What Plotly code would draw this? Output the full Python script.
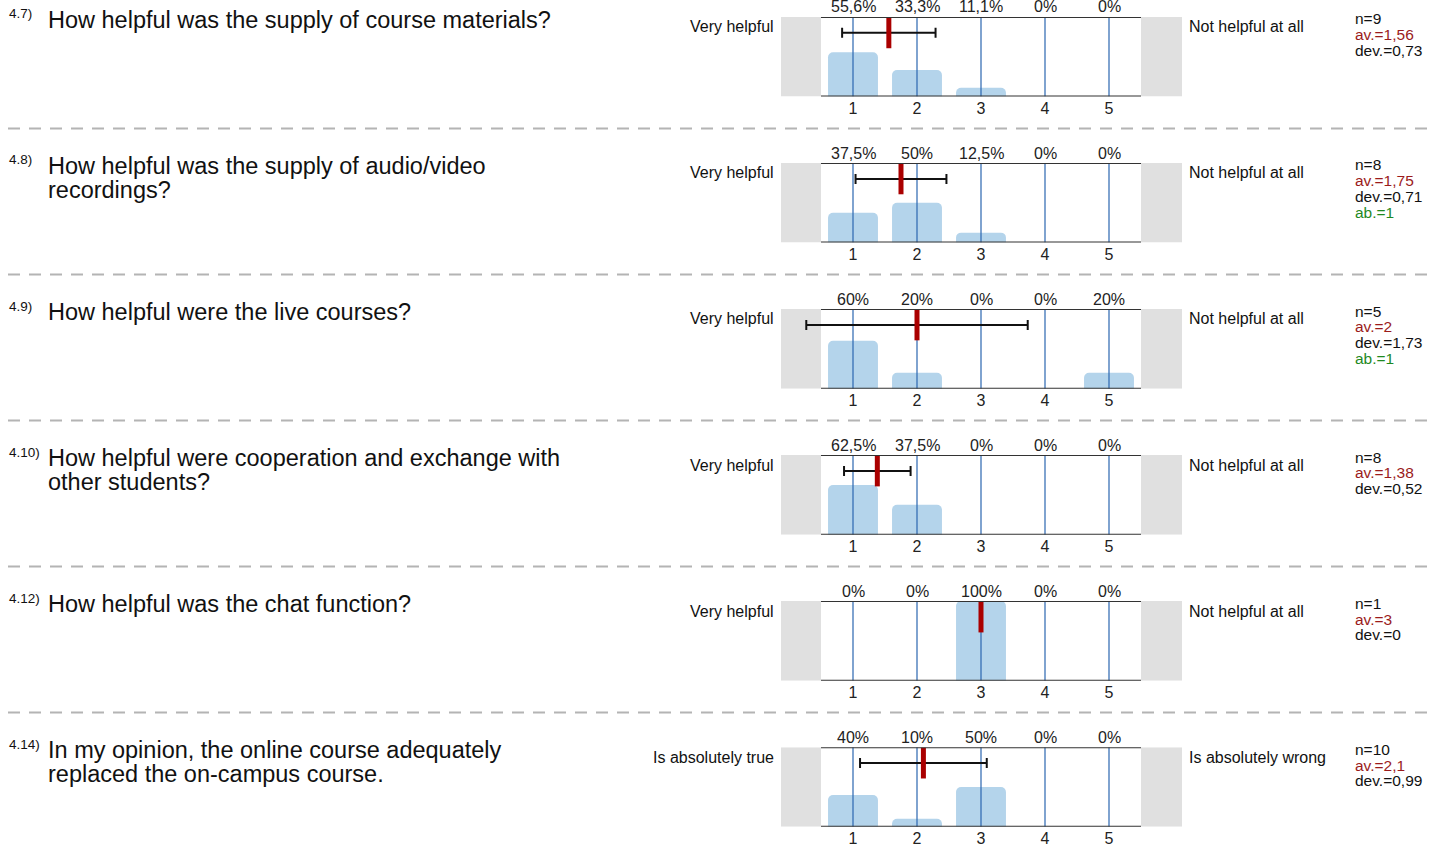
import plotly.graph_objects as go

W, H = 1440, 847

numbers = ["4.7)", "4.8)", "4.9)", "4.10)", "4.12)", "4.14)"]
questions = [
    "How helpful was the supply of course materials?",
    "How helpful was the supply of audio/video\nrecordings?",
    "How helpful were the live courses?",
    "How helpful were cooperation and exchange with\nother students?",
    "How helpful was the chat function?",
    "In my opinion, the online course adequately\nreplaced the on-campus course.",
]
left_labels = ["Very helpful"] * 5 + ["Is absolutely true"]
right_labels = ["Not helpful at all"] * 5 + ["Is absolutely wrong"]
categories = [1, 2, 3, 4, 5]
percents = [
    [55.6, 33.3, 11.1, 0, 0],
    [37.5, 50, 12.5, 0, 0],
    [60, 20, 0, 0, 20],
    [62.5, 37.5, 0, 0, 0],
    [0, 0, 100, 0, 0],
    [40, 10, 50, 0, 0],
]
n_vals = [9, 8, 5, 8, 1, 10]
av_vals = [1.56, 1.75, 2, 1.38, 3, 2.1]
dev_vals = [0.73, 0.71, 1.73, 0.52, 0, 0.99]
ab_vals = [None, 1, 1, None, None, None]

FONT = "Liberation Sans, Arial, sans-serif"
BAR_C = "#b4d4eb"
GRID_C = "#2b66b0"
AXIS_C = "#333333"
RED = "#aa0000"
AV_C = "#9b1b1b"
AB_C = "#1f8a1f"
PANEL_C = "#e0e0e0"

ROW_STEP = 146.74
TOP0 = 17
PLOT_H = 80
PX_UNIT = 64.0
X_CAT1 = 853
XD0, XD1 = 781, 1182
R0 = 1 - (X_CAT1 - XD0) / PX_UNIT
R1 = 1 + (XD1 - X_CAT1) / PX_UNIT


def fx(px):
    return px / W


def fy(py):
    return 1 - py / H


def fmt(v):
    return f"{v:g}".replace(".", ",")


fig = go.Figure()
layout = dict(
    width=W, height=H, margin=dict(l=0, r=0, t=0, b=0),
    paper_bgcolor="white", plot_bgcolor="rgba(0,0,0,0)",
    showlegend=False, font=dict(family=FONT, color="#111"),
)
annotations = []
shapes = []

for i in range(6):
    top = TOP0 + ROW_STEP * i
    bot = top + PLOT_H
    sfx = "" if i == 0 else str(i + 1)
    xa, ya = "x" + sfx, "y" + sfx
    layout["xaxis" + sfx] = dict(
        domain=[fx(XD0), fx(XD1)], range=[R0, R1], anchor=ya,
        showline=False, showgrid=False, zeroline=False,
        tickvals=categories, ticktext=[str(c) for c in categories], ticks="",
        ticklabelstandoff=0,
        tickfont=dict(size=16, color="#222"), fixedrange=True,
    )
    layout["yaxis" + sfx] = dict(
        domain=[fy(bot), fy(top)], range=[0, 100], anchor=xa,
        visible=False, fixedrange=True,
    )
    # gray side panels and plotting frame lines
    shapes.append(dict(type="rect", xref=xa, yref=ya, x0=R0, x1=0.5, y0=0, y1=100,
                       fillcolor=PANEL_C, line=dict(width=0), layer="below"))
    shapes.append(dict(type="rect", xref=xa, yref=ya, x0=5.5, x1=R1, y0=0, y1=100,
                       fillcolor=PANEL_C, line=dict(width=0), layer="below"))
    for yy in (0, 100):
        shapes.append(dict(type="line", xref=xa, yref=ya, x0=0.5, x1=5.5, y0=yy, y1=yy,
                           line=dict(color=AXIS_C, width=2), layer="above"))
    # bars
    fig.add_trace(go.Bar(
        x=categories, y=percents[i], xaxis=xa, yaxis=ya, width=0.78,
        marker=dict(color=BAR_C, cornerradius=5, line=dict(width=0)),
        hoverinfo="skip",
    ))
    # vertical category lines above bars
    lx, ly = [], []
    for c in categories:
        lx += [c, c, None]
        ly += [0, 100, None]
    fig.add_trace(go.Scatter(
        x=lx, y=ly, xaxis=xa, yaxis=ya, mode="lines",
        line=dict(color=GRID_C, width=1.2), hoverinfo="skip",
    ))
    # error bar (mean +- dev)
    if dev_vals[i] > 0:
        fig.add_trace(go.Scatter(
            x=[av_vals[i]], y=[80], xaxis=xa, yaxis=ya, mode="markers",
            marker=dict(size=1, color="rgba(0,0,0,0)"),
            error_x=dict(type="data", array=[dev_vals[i]], color="#111",
                         thickness=2, width=5),
            hoverinfo="skip",
        ))
    # mean marker
    fig.add_trace(go.Scatter(
        x=[av_vals[i]], y=[80], xaxis=xa, yaxis=ya, mode="markers",
        marker=dict(symbol="line-ns", size=22,
                    line=dict(color=RED, width=5)),
        cliponaxis=False, hoverinfo="skip",
    ))
    # percent labels
    for c, p in zip(categories, percents[i]):
        annotations.append(dict(
            x=c, y=fy(top - 10), xref=xa, yref="paper", text=fmt(p) + "%",
            showarrow=False, font=dict(size=16, color="#222"),
            xanchor="center", yanchor="middle",
        ))
    # side labels
    annotations.append(dict(
        x=fx(776), y=fy(top + 10), xref="paper", yref="paper",
        text=left_labels[i], showarrow=False, xanchor="right", yanchor="middle",
        font=dict(size=16, color="#111"),
    ))
    annotations.append(dict(
        x=fx(1187), y=fy(top + 10), xref="paper", yref="paper",
        text=right_labels[i], showarrow=False, xanchor="left", yanchor="middle",
        font=dict(size=16, color="#111"),
    ))
    # stats
    stats = [("n=" + str(n_vals[i]), "#111"),
             ("av.=" + fmt(av_vals[i]), AV_C),
             ("dev.=" + fmt(dev_vals[i]), "#111")]
    if ab_vals[i] is not None:
        stats.append(("ab.=" + fmt(ab_vals[i]), AB_C))
    for k, (t, col) in enumerate(stats):
        annotations.append(dict(
            x=fx(1353), y=fy(top + 2 + 16 * k), xref="paper", yref="paper",
            text=t, showarrow=False, xanchor="left", yanchor="middle",
            font=dict(size=15.5, color=col),
        ))
    # question number and text
    annotations.append(dict(
        x=fx(7), y=fy(top - 3), xref="paper", yref="paper",
        text=numbers[i], showarrow=False, xanchor="left", yanchor="middle",
        font=dict(size=13.5, color="#111"),
    ))
    for k, line in enumerate(questions[i].split("\n")):
        annotations.append(dict(
            x=fx(46), y=fy(top + 3 + 24 * k), xref="paper", yref="paper",
            text=line, showarrow=False, xanchor="left", yanchor="middle",
            font=dict(size=23.5, color="#111"),
        ))
    # dashed separator
    if i < 5:
        sy = bot + 32
        shapes.append(dict(type="line", xref="paper", yref="paper",
                           x0=fx(8), x1=fx(1432), y0=fy(sy), y1=fy(sy),
                           line=dict(color="#b4b4b4", width=2, dash="12px,9px")))

layout["annotations"] = annotations
layout["shapes"] = shapes
fig.update_layout(**layout)

post = (
    "document.documentElement.style.margin='0';"
    "document.documentElement.style.overflow='hidden';"
    "document.body.style.margin='0';"
    "document.body.style.overflow='hidden';"
)
fig.write_html("out.html", config={"displayModeBar": False}, post_script=post)
